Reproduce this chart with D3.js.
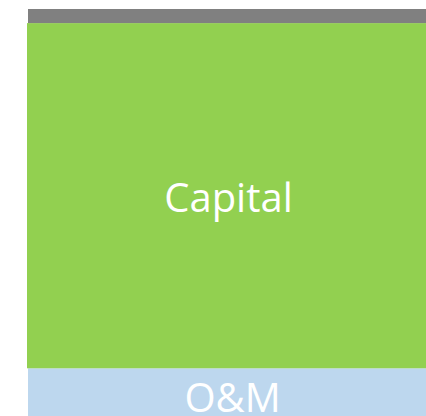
<!DOCTYPE html>
<html><head><meta charset="utf-8">
<script src="https://cdn.jsdelivr.net/npm/d3@7"></script>
<style>html,body{margin:0;padding:0;background:#fff;overflow:hidden}</style>
</head><body>
<script>
const categories = ["Cost"];
const seriesNames = ["O&M", "Capital", "Other"];
const omValues = [13.3];
const capitalValues = [83.3];
const otherValues = [3.4];
const colors = ["#bdd7ee", "#92d050", "#808080"];
const labelShown = [true, true, false];
const labelNudge = [1.5, -2.5, 0];
const leftExtend = [0, 1, 0];

const W = 426, H = 416;
const svg = d3.select("body").append("svg").attr("width", W).attr("height", H);

const rows = categories.map((c, i) => ({cat: c, "O&M": omValues[i], "Capital": capitalValues[i], "Other": otherValues[i]}));
const stack = d3.stack().keys(seriesNames)(rows);

const x = d3.scaleBand().domain(categories).range([28, 434]).padding(0);
const y = d3.scaleLinear().domain([0, 100]).range([423.4, 9]);
const fontSize = 40;
const capH = 0.714 * fontSize;

const g = svg.append("g");
stack.forEach((layer, li) => {
  g.selectAll(null).data(layer).enter().append("rect")
    .attr("x", d => x(d.data.cat) - leftExtend[li])
    .attr("width", x.bandwidth() + leftExtend[li])
    .attr("y", d => y(d[1]))
    .attr("height", d => y(d[0]) - y(d[1]))
    .attr("fill", colors[li]);
});
stack.forEach((layer, li) => {
  if (!labelShown[li]) return;
  g.selectAll(null).data(layer).enter().append("text")
    .attr("x", d => x(d.data.cat) + x.bandwidth() / 2 + labelNudge[li])
    .attr("y", d => (y(d[0]) + y(d[1])) / 2 + capH / 2 + 2.3)
    .attr("text-anchor", "middle")
    .attr("font-family", "'Open Sans', 'Noto Sans', sans-serif")
    .attr("font-size", fontSize)
    .attr("fill", "#ffffff")
    .text(seriesNames[li]);
});
</script>
</body></html>
